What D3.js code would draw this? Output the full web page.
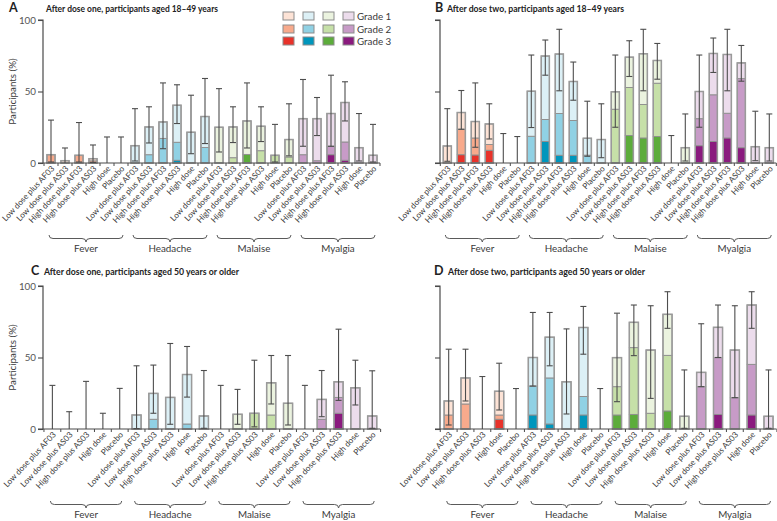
<!DOCTYPE html>
<html><head><meta charset="utf-8">
<script src="https://cdn.jsdelivr.net/npm/d3@7"></script>
<style>body{margin:0;background:#fff}svg{display:block;font-family:Lato,"Open Sans",sans-serif}</style>
</head><body><svg id="c" width="777" height="521"></svg>
<script>
const groups = ["Fever","Headache","Malaise","Myalgia"];
const armsYoung = ["Low dose plus AF03","Low dose plus AS03","High dose plus AF03","High dose plus AS03","High dose","Placebo"];
const armsOld = ["Low dose plus AF03","Low dose plus AS03","High dose plus AS03","High dose","Placebo"];
const yTicks = [0,50,100];
const gradeLabels = ["Grade 1","Grade 2","Grade 3"];
// colours per symptom: [grade1, grade2, grade3]
const groupColors = {
  Fever:["#fde3d6","#f8aa8c","#e8322a"],
  Headache:["#dcf0f6","#90d1e4","#0096bc"],
  Malaise:["#ebf3df","#c6e0a8","#5cac3b"],
  Myalgia:["#ecdcec","#c79bc7","#8a1a7e"]
};

// Panel A: after dose one, 18-49 (any grade, grade>=2, grade 3, 95% CI of any)
const A_any    = [5.8,1.6,5.4,3.0,0,0, 12.1,25.2,28.7,40.4,21.5,32.5, 25.0,25.2,29.4,25.7,5.4,16.4, 31.0,31.0,34.6,42.3,10.7,5.4];
const A_g2plus = [5.8,0,5.4,1.5,0,0, 0,5.8,17.2,14.5,0,10.8, 0,3.7,6.0,8.6,5.4,4.2, 5.8,1.6,11.7,14.7,0,0];
const A_g3     = [0,0,0,0,0,0, 0,0,0,1.9,0,0, 0,0,6.0,0,0,0, 0,0,5.8,1.9,0,0];
const A_ciLow  = [0.7,0,0.7,0.4,0,0, 1.4,14,10,27.6,6.5,13.6, 7.7,14.3,10.5,15,0.7,5, 11.7,19.2,11.7,29.4,1.4,0.7];
const A_ciHigh = [30,10.5,28.3,12.6,18.2,18.2, 38,39.3,56,54.7,47.4,59.1, 52,39.3,56,39.3,27,41.4, 58.4,45.8,61.4,56.8,34.6,27];

// Panel B: after dose two, 18-49
const B_any    = [11.9,35.3,29,27.3,0,0, 50.2,74.8,76.2,57,17.3,16.4, 49.8,74,76.4,71.7,0,10.7, 50,76.6,75.9,70,11.4,10.7];
const B_g2plus = [0,23.6,17.5,12.9,0,0, 18.7,30.4,34.6,29.7,5.5,0, 37.6,52.8,40.9,55.8,0,0, 31,47.7,34.8,59,0,0];
const B_g3     = [0,5.8,5.6,8.9,0,0, 0,15,5.4,5.4,0,0, 0,19.2,17.5,18.5,0,0, 12.1,15,17.5,10.7,0,0];
const B_ciLow  = [1.2,23.6,11,16.8,0,0, 24.8,61.4,50.5,43.9,4.7,3.7, 25,60.5,50.5,58.6,0,1.4, 25,63.3,50.5,57.2,1.6,1.4];
const B_ciHigh = [38,50.7,56,41.4,20.6,18.5, 75.5,86,93.5,70.6,43.2,41.4, 75.5,85.5,93.5,83.6,19.2,34.3, 75.5,87.4,93.5,82.2,36.2,34.3];

// Panel C: after dose one, >=50
const C_any    = [0,0,0,0,0, 9.8,24.9,22.1,38.1,9.1, 0,10.3,11,32.3,18, 0,20.7,33,28.8,9.1];
const C_g2plus = [0,0,0,0,0, 0,6.8,0,3.5,0, 0,0,11,9.8,0, 0,6.8,22.1,0,0];
const C_g3     = [0,0,0,0,0, 0,0,0,0,0, 0,0,0,0,0, 0,0,11,0,0];
const C_ciLow  = [0,0,0,0,0, 0.3,11,3.3,22.3,0.5, 0,3.3,1.5,17.5,2.8, 0,8.6,20,16.8,0.5];
const C_ciHigh = [30.5,12.1,33.3,11,28.4, 44.2,44.7,59.8,57.7,40.9, 30.5,27.7,48.1,51.4,51.4, 30.5,40.9,69.8,48.1,40.7];

// Panel D: after dose two, >=50
const D_any    = [19.6,35.7,0,26.4,0, 50,64.2,33,71,0, 49.9,74.6,55.2,80.2,8.9, 39.6,71.1,55.2,86.7,8.9];
const D_g2plus = [9.8,17.5,0,9.8,0, 30.1,35.7,0,22.7,0, 29.6,56.9,11,51.5,0, 29.6,49.9,21.9,45.2,0];
const D_g3     = [0,0,0,6.8,0, 9.8,3.5,0,9.8,0, 9.8,10.2,0,12.6,0, 0,10.2,0,9.8,0];
const D_ciLow  = [2.8,19.6,0,13.3,0, 30,44.2,10.5,52.3,0, 19.1,51.3,21.4,70.4,0.5, 29.6,50,21.9,70.4,0.5];
const D_ciHigh = [55.8,55.8,36.7,46,28.3, 81.5,81.5,70,85.7,28.3, 81,86.7,86.2,96,41.3, 73.6,86.7,86.2,96,41.3];

const panels = [
  {letter:"A", title:"After dose one, participants aged 18–49 years", arms:armsYoung, any:A_any, g2:A_g2plus, g3:A_g3, lo:A_ciLow, hi:A_ciHigh,
   x0:44, x1:380, yTop:20, yBot:163, axisX:43, labels:true, legend:true, letterX:9, titleX:46, titleY:12, titleW:172},
  {letter:"B", title:"After dose two, participants aged 18–49 years", arms:armsYoung, any:B_any, g2:B_g2plus, g3:B_g3, lo:B_ciLow, hi:B_ciHigh,
   x0:440.3, x1:776.3, yTop:20, yBot:163, axisX:440, labels:false, legend:false, letterX:435, titleX:447, titleY:12, titleW:177},
  {letter:"C", title:"After dose one, participants aged 50 years or older", arms:armsOld, any:C_any, g2:C_g2plus, g3:C_g3, lo:C_ciLow, hi:C_ciHigh,
   x0:44.3, x1:380.3, yTop:286, yBot:429, axisX:43, labels:true, legend:false, letterX:31, titleX:44, titleY:275, titleW:195},
  {letter:"D", title:"After dose two, participants aged 50 years or older", arms:armsOld, any:D_any, g2:D_g2plus, g3:D_g3, lo:D_ciLow, hi:D_ciHigh,
   x0:440.6, x1:776.6, yTop:286, yBot:429, axisX:440, labels:false, legend:false, letterX:434, titleX:448, titleY:275, titleW:197}
];

const svg = d3.select("#c");
const axisCol = "#4a4a4a", textCol = "#3a3a3a";

function bracePath(x1,x2,y,h){
  const xm=(x1+x2)/2, q=4, ym=y+h/2;
  return `M${x1},${y} Q${x1},${ym} ${x1+q},${ym} L${xm-q},${ym} Q${xm},${ym} ${xm},${y+h} Q${xm},${ym} ${xm+q},${ym} L${x2-q},${ym} Q${x2},${ym} ${x2},${y}`;
}

panels.forEach(p=>{
  const g = svg.append("g");
  const n = p.arms.length;
  const keys = [];
  groups.forEach(gr=>p.arms.forEach(a=>keys.push(gr+"|"+a)));
  const x = d3.scaleBand().domain(keys).range([p.x0,p.x1]).paddingInner(n===6?0.42:0.46).paddingOuter(0.21);
  const y = d3.scaleLinear().domain([0,100]).range([p.yBot,p.yTop]);

  // title
  g.append("text").attr("x",p.letterX).attr("y",p.titleY).attr("font-size",12.5).attr("font-weight",700).attr("fill","#222").text(p.letter);
  g.append("text").attr("x",p.titleX).attr("y",p.titleY).attr("font-size",9.8).attr("font-weight",700).attr("fill","#222")
   .attr("textLength",p.titleW).attr("lengthAdjust","spacingAndGlyphs").text(p.title);

  // y axis
  const ya = d3.axisLeft(y).tickValues(yTicks).tickSize(5).tickFormat(p.labels? d3.format("d") : ()=>"");
  const yg = g.append("g").attr("transform",`translate(${p.axisX},0)`).call(ya);
  yg.select(".domain").attr("stroke",axisCol).attr("stroke-width",1.2).attr("d",`M-5,${y(100)}H0V${y(0)}H-5`);
  yg.selectAll(".tick line").attr("stroke",axisCol).attr("stroke-width",1.1);
  yg.selectAll(".tick text").attr("font-family","Lato").attr("font-size",9.8).attr("fill","#555").attr("x",-7);
  if(p.labels){
    g.append("text").attr("transform",`translate(13,${(y(0)+y(100))/2}) rotate(-90)`).attr("text-anchor","middle")
     .attr("dy","0.35em").attr("font-size",9.8).attr("fill",textCol).text("Participants (%)");
  }

  // bars
  keys.forEach((k,i)=>{
    const gr = k.split("|")[0], cols = groupColors[gr];
    const bx = x(k), bw = x.bandwidth();
    const segs = [[0,p.g3[i],cols[2]],[p.g3[i],p.g2[i],cols[1]],[p.g2[i],p.any[i],cols[0]]];
    segs.forEach(s=>{
      if(s[1]-s[0]>0.01){
        g.append("rect").attr("x",bx).attr("width",bw).attr("y",y(s[1])).attr("height",y(s[0])-y(s[1]))
         .attr("fill",s[2]).attr("stroke","#8c8c8c").attr("stroke-width",0.9);
      }
    });
    if(p.any[i]>0){
      g.append("rect").attr("x",bx).attr("width",bw).attr("y",y(p.any[i])).attr("height",y(0)-y(p.any[i]))
       .attr("fill","none").attr("stroke","#9a9a9a").attr("stroke-width",1.5);
    }
    // error bars
    const cx = bx+bw/2;
    const eb = g.append("g").attr("stroke","#4d4d4d").attr("stroke-width",1.1);
    eb.append("line").attr("x1",cx).attr("x2",cx).attr("y1",y(p.lo[i])).attr("y2",y(p.hi[i]));
    eb.append("line").attr("x1",cx-3).attr("x2",cx+3).attr("y1",y(p.hi[i])).attr("y2",y(p.hi[i]));
    if(p.lo[i]>0.2) eb.append("line").attr("x1",cx-3).attr("x2",cx+3).attr("y1",y(p.lo[i])).attr("y2",y(p.lo[i]));
  });

  // x axis
  const xa = d3.axisBottom(x).tickSize(0).tickFormat(k=>k.split("|")[1]);
  const xg = g.append("g").attr("transform",`translate(0,${p.yBot})`).call(xa);
  xg.select(".domain").attr("stroke",axisCol).attr("stroke-width",1.2).attr("d",`M${p.axisX},0H${p.x1}`);
  xg.selectAll(".tick text").attr("font-family","Lato").attr("font-size",8.2).attr("fill",textCol)
    .attr("text-anchor","end").attr("dy",0).attr("y",0)
    .attr("transform",`translate(4,6) rotate(-47)`);
  // boundary ticks
  const bounds = keys.map(k=>x(k)-x.step()*x.paddingInner()/2).concat([x(keys[keys.length-1])+x.bandwidth()+x.step()*x.paddingInner()/2]);
  xg.selectAll("line.bt").data(bounds).enter().append("line").attr("class","bt")
    .attr("x1",d=>d).attr("x2",d=>d).attr("y1",0).attr("y2",3).attr("stroke",axisCol).attr("stroke-width",1);

  // braces + group labels
  groups.forEach(gr=>{
    const first = x(gr+"|"+p.arms[0]) + x.bandwidth()/2, last = x(gr+"|"+p.arms[n-1]) + x.bandwidth()/2;
    const x1 = first-2, x2 = last+2;
    g.append("path").attr("d",bracePath(x1,x2,p.yBot+72,7)).attr("fill","none").attr("stroke","#5a5a5a").attr("stroke-width",1);
    g.append("text").attr("x",(x1+x2)/2).attr("y",p.yBot+89).attr("text-anchor","middle").attr("font-size",9.8).attr("fill",textCol).text(gr);
  });

  // legend
  if(p.legend){
    const lx = [283,303,323,343], ly=[16,29,41];
    gradeLabels.forEach((gl,r)=>{
      groups.forEach((gr,c)=>{
        g.append("rect").attr("x",lx[c]).attr("y",ly[r]-4).attr("width",11).attr("height",8)
         .attr("fill",groupColors[gr][r]).attr("stroke","#8c8c8c").attr("stroke-width",1);
      });
      g.append("text").attr("x",357).attr("y",ly[r]+3.5).attr("font-size",9.8).attr("fill",textCol).text(gl);
    });
  }
});
</script></body></html>
